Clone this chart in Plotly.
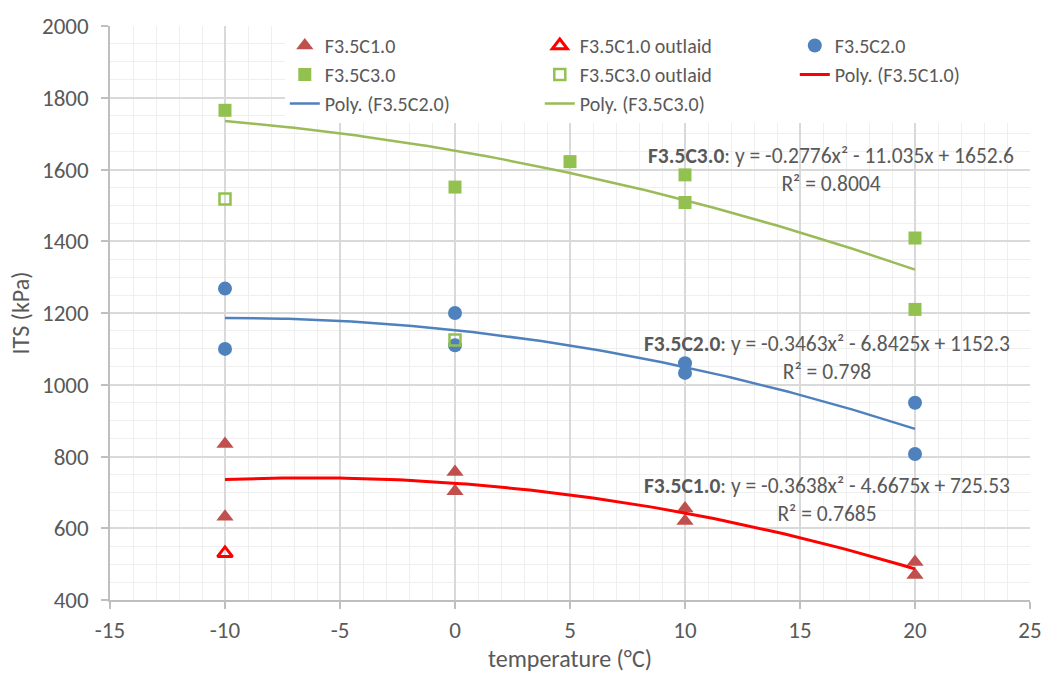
import numpy as np
import plotly.graph_objects as go

# Measured indirect tensile strength (kPa) against test temperature (°C)
temp_c1 = [-10, -10, 0, 0, 10, 10, 20, 20]
its_c1 = [835, 632, 757, 703, 655, 620, 506, 470]

temp_c1_out = [-10]
its_c1_out = [530]

temp_c2 = [-10, -10, 0, 0, 10, 10, 20, 20]
its_c2 = [1268, 1100, 1200, 1110, 1060, 1033, 950, 807]

temp_c3 = [-10, 0, 5, 10, 10, 20, 20]
its_c3 = [1765, 1551, 1622, 1585, 1508, 1409, 1210]

temp_c3_out = [-10, 0]
its_c3_out = [1518, 1125]

# Second-order trendline coefficients (a, b, c) for y = a x^2 + b x + c
poly_c1 = (-0.3638, -4.6675, 725.53)
poly_c2 = (-0.3463, -6.8425, 1152.3)
poly_c3 = (-0.2776, -11.035, 1652.6)
r2_c1, r2_c2, r2_c3 = 0.7685, 0.798, 0.8004

# Axis ticks (hyphen minus, as in the original spreadsheet labels)
x_ticks = [-15, -10, -5, 0, 5, 10, 15, 20, 25]
x_tick_labels = ["-15", "-10", "-5", "0", "5", "10", "15", "20", "25"]
y_ticks = [400, 600, 800, 1000, 1200, 1400, 1600, 1800, 2000]

FONT = "Carlito, Lato, sans-serif"
TXT = "#595959"

RED_DARK = "#C0504D"
RED = "#FF0000"
BLUE = "#4F81BD"
GREEN = "#92C150"
GREEN_LINE = "#9BBB59"

fig = go.Figure()

fig.add_trace(go.Scatter(x=temp_c1, y=its_c1, mode="markers", name="F3.5C1.0",
                         marker=dict(symbol="triangle-up", size=15, color=RED_DARK)))
fig.add_trace(go.Scatter(x=temp_c1_out, y=its_c1_out, mode="markers", name="F3.5C1.0 outlaid",
                         marker=dict(symbol="triangle-up-open", size=13, color=RED,
                                     line=dict(width=3, color=RED))))
fig.add_trace(go.Scatter(x=temp_c2, y=its_c2, mode="markers", name="F3.5C2.0",
                         marker=dict(symbol="circle", size=14, color=BLUE)))
fig.add_trace(go.Scatter(x=temp_c3, y=its_c3, mode="markers", name="F3.5C3.0",
                         marker=dict(symbol="square", size=13, color=GREEN)))
fig.add_trace(go.Scatter(x=temp_c3_out, y=its_c3_out, mode="markers", name="F3.5C3.0 outlaid",
                         marker=dict(symbol="square-open", size=11, color=GREEN,
                                     line=dict(width=2.5, color=GREEN))))

xs = np.linspace(-10, 20, 121)


def poly(coef, x):
    a, b, c = coef
    return a * x ** 2 + b * x + c


fig.add_trace(go.Scatter(x=xs, y=poly(poly_c1, xs), mode="lines", name="Poly. (F3.5C1.0)",
                         line=dict(color=RED, width=3)))
fig.add_trace(go.Scatter(x=xs, y=poly(poly_c2, xs), mode="lines", name="Poly. (F3.5C2.0)",
                         line=dict(color=BLUE, width=2.5)))
fig.add_trace(go.Scatter(x=xs, y=poly(poly_c3, xs), mode="lines", name="Poly. (F3.5C3.0)",
                         line=dict(color=GREEN_LINE, width=2.5)))


def eq_text(label, coef, r2):
    a, b, c = coef
    sb = "-" if b < 0 else "+"
    return (f"<b>{label}</b>: y = {a:.4f}x² {sb} {abs(b):g}x + {c:g}"
            f"<br>R² = {r2:g}")


for label, coef, r2, ax, ay in [
    ("F3.5C3.0", poly_c3, r2_c3, 16.35, 1600),
    ("F3.5C2.0", poly_c2, r2_c2, 16.17, 1075),
    ("F3.5C1.0", poly_c1, r2_c1, 16.17, 679),
]:
    fig.add_annotation(x=ax, y=ay, xref="x", yref="y", text=eq_text(label, coef, r2),
                       showarrow=False, align="center",
                       font=dict(family=FONT, size=21.5, color=TXT))

axis_common = dict(
    showline=True, linecolor="#BFBFBF", linewidth=1.5,
    showgrid=True, gridcolor="#D9D9D9", gridwidth=1.5,
    ticks="outside", ticklen=7, tickcolor="#BFBFBF", tickwidth=1.5,
    tickfont=dict(family=FONT, size=23, color=TXT),
    zeroline=False,
)

fig.update_xaxes(range=[-15, 25], tickmode="array", tickvals=x_ticks, ticktext=x_tick_labels,
                 minor=dict(dtick=1, tick0=0, showgrid=True, gridcolor="#EFEFEF", gridwidth=1),
                 title=dict(text="temperature (°C)", font=dict(family=FONT, size=24, color=TXT),
                            standoff=6),
                 ticklabelstandoff=2,
                 **axis_common)
fig.update_yaxes(range=[400, 2000], tickmode="array", tickvals=y_ticks,
                 minor=dict(dtick=50, tick0=0, showgrid=True, gridcolor="#EFEFEF", gridwidth=1),
                 title=dict(text="ITS (kPa)", font=dict(family=FONT, size=24, color=TXT),
                            standoff=6),
                 ticklabelstandoff=8,
                 **axis_common)

fig.update_layout(
    width=1045, height=675,
    margin=dict(l=110, r=15, t=26, b=75, autoexpand=False),
    plot_bgcolor="white", paper_bgcolor="white",
    showlegend=True,
    legend=dict(orientation="h", x=0.19, y=1.0, xanchor="left", yanchor="top",
                bgcolor="white", entrywidth=210, entrywidthmode="pixels",
                font=dict(family=FONT, size=20, color=TXT), traceorder="normal"),
    font=dict(family=FONT, color=TXT),
)

fig.write_html("out.html")
